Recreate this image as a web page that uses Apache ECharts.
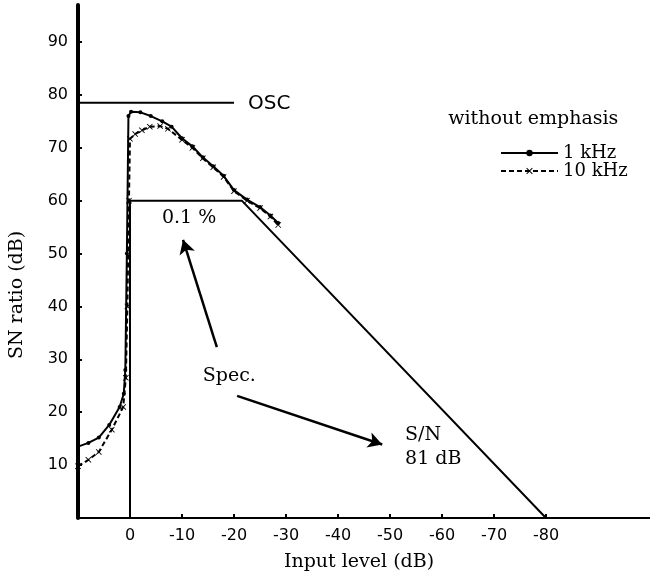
<!DOCTYPE html>
<html><head><meta charset="utf-8">
<script src="https://cdn.jsdelivr.net/npm/echarts@6/dist/echarts.min.js"></script>
<style>html,body{margin:0;padding:0;background:#fff}#c{width:650px;height:581px}</style>
</head><body><div id="c"></div>
<script>
// ---- data ----
const xTicks = [0, -10, -20, -30, -40, -50, -60, -70, -80];
const yTicks = [10, 20, 30, 40, 50, 60, 70, 80, 90];

const khz1X = [10, 8, 6, 4, 2, 1.2, 0.9, 0.6, 0.3, -0.2, -2, -4, -6.2, -8, -10, -12, -14, -16, -18, -20, -22.5, -25, -27, -28.5];
const khz1Y = [13.5, 14.2, 15.2, 17.6, 21, 23.5, 28, 50, 76, 76.8, 76.7, 76, 75, 74, 71.8, 70.3, 68.2, 66.5, 64.7, 62, 60.2, 58.8, 57.2, 55.8];

const khz10X = [10, 8, 6, 3.5, 1.3, 0.8, 0.5, 0.2, 0, -1, -2.3, -3.8, -5.8, -7.3, -10, -12, -14, -16, -18, -20, -22.5, -25, -27, -28.5];
const khz10Y = [9.8, 11, 12.5, 16.7, 21, 26.5, 40, 60, 71.7, 72.6, 73.3, 74, 74.1, 73.6, 71.5, 70, 68, 66.3, 64.5, 61.8, 60, 58.6, 57, 55.4];

const specX = [0, 0, -21.5, -80];
const specY = [0, 60, 60, 0];

const oscX = [10, -20];
const oscY = [78.5, 78.5];

const arrowFrom = [[-16.7, 32.3], [-20.6, 23.1]];
const arrowTo = [[-10.2, 52.6], [-48.5, 13.9]];

const annoX = [-22.7, -6.15, -14, -52.9, -52.9, -61.2];
const annoY = [78.4, 56.7, 26.8, 15.7, 11.2, 75.5];
const annoText = ['OSC', '0.1 %', 'Spec.', 'S/N', '81 dB', 'without emphasis'];

// ---- build ----
const zip = (a, b) => a.map((v, i) => [v, b[i]]);
const ink = '#000';
const serif = 'DejaVu Serif';
const sans = 'DejaVu Sans';
const crossPath = 'path://M0,1L1,0L5,4L9,0L10,1L6,5L10,9L9,10L5,6L1,10L0,9L4,5Z';

const chart = echarts.init(document.getElementById('c'));
chart.setOption({
  animation: false,
  backgroundColor: '#fff',
  grid: { left: 78, right: 0, top: 5, bottom: 63 },
  legend: {
    data: ['1 kHz', '10 kHz'],
    orient: 'vertical', left: 495, top: 139,
    itemWidth: 57, itemHeight: 8, itemGap: 0,
    textStyle: { fontFamily: serif, fontSize: 18, lineHeight: 18, color: ink }
  },
  xAxis: {
    type: 'value', min: -100, max: 10, interval: 10, inverse: true,
    axisLine: { onZero: false, lineStyle: { color: ink, width: 2 } },
    axisTick: { inside: true, length: 4, lineStyle: { color: ink, width: 2 }, customValues: xTicks },
    axisLabel: { customValues: xTicks, color: ink, fontFamily: sans, fontSize: 16, margin: 10 },
    splitLine: { show: false }
  },
  yAxis: {
    type: 'value', min: 0, max: 97, interval: 10,
    axisLine: { show: true, onZero: false, lineStyle: { color: ink, width: 4 } },
    axisTick: { inside: true, length: 4, lineStyle: { color: ink, width: 2 }, customValues: yTicks },
    axisLabel: { customValues: yTicks, color: ink, fontFamily: sans, fontSize: 16, margin: 10 },
    splitLine: { show: false }
  },
  series: [
    {
      name: '1 kHz', type: 'line', data: zip(khz1X, khz1Y),
      lineStyle: { color: ink, width: 2 }, itemStyle: { color: ink },
      symbol: 'circle', symbolSize: 4, showSymbol: true
    },
    {
      name: '10 kHz', type: 'line', data: zip(khz10X, khz10Y),
      lineStyle: { color: ink, width: 2, type: [5, 3] }, itemStyle: { color: ink },
      symbol: crossPath, symbolSize: 6, showSymbol: true
    },
    {
      name: 'Spec', type: 'line', data: zip(specX, specY), symbol: 'none',
      lineStyle: { color: ink, width: 2 },
      markLine: {
        silent: true, symbol: ['none', 'arrow'], symbolSize: [12, 14],
        lineStyle: { color: ink, width: 2.5, type: 'solid' },
        label: { show: false },
        data: arrowFrom.map((f, i) => [{ coord: f }, { coord: arrowTo[i] }])
      }
    },
    {
      name: 'OSC', type: 'line', data: zip(oscX, oscY), symbol: 'none',
      lineStyle: { color: ink, width: 2 }
    }
  ]
});

// annotation texts placed at data coordinates through the chart's own scales
const notes = annoText.map((t, i) => {
  const p = chart.convertToPixel({ gridIndex: 0 }, [annoX[i], annoY[i]]);
  return {
    type: 'text', x: p[0], y: p[1], silent: true,
    style: {
      text: t, fill: ink, verticalAlign: 'middle', align: 'left',
      font: i === 0 ? '20px "DejaVu Sans"' : '19px "DejaVu Serif"'
    }
  };
});
notes.push(
  { type: 'text', x: 359, y: 562, style: { text: 'Input level (dB)', font: '19px "DejaVu Serif"', fill: ink, align: 'center', verticalAlign: 'middle' } },
  { type: 'text', x: 17, y: 295, rotation: Math.PI / 2, style: { text: 'SN ratio (dB)', font: '19px "DejaVu Serif"', fill: ink, align: 'center', verticalAlign: 'middle' } }
);
chart.setOption({ graphic: notes });
</script></body></html>
